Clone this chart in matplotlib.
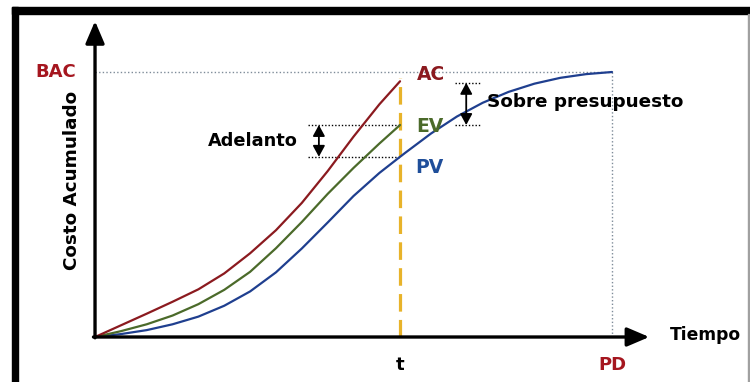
import matplotlib
matplotlib.use("Agg")
import matplotlib.pyplot as plt
from matplotlib.patches import Rectangle

# --- Earned value S-curves (time: % of planned duration, cost: % of BAC) ---
pv_time = [0, 5, 10, 15, 20, 25, 30, 35, 40, 45, 50, 55, 59, 60, 65, 70, 75, 80, 85, 90, 95, 100]
pv_cost = [0, 1.1, 2.6, 4.8, 7.7, 11.8, 17.2, 24.4, 33.4, 43.2, 53.2, 61.9, 68.0, 69.5,
           76.8, 83.2, 88.4, 92.5, 95.6, 97.8, 99.2, 100]

ev_time = [0, 5, 10, 15, 20, 25, 30, 35, 40, 45, 50, 55, 59]
ev_cost = [0, 2.2, 4.8, 8.1, 12.4, 17.8, 24.6, 33.5, 43.4, 54.0, 63.8, 73.0, 80.0]

ac_time = [0, 5, 10, 15, 20, 25, 30, 35, 40, 45, 50, 55, 59]
ac_cost = [0, 4.4, 8.8, 13.3, 18.0, 24.0, 31.6, 40.3, 50.6, 62.6, 75.6, 87.8, 96.5]

status_date = 59        # t
planned_duration = 100  # PD
bac = 100               # BAC

axis_labels = ["Tiempo", "Costo Acumulado"]
curve_labels = ["AC", "EV", "PV"]

# colours
RED = "#8B1A1F"
RED_TXT = "#A5161F"
GREEN = "#4B6A2A"
BLUE = "#1F3F8F"
BLUE_TXT = "#1F4E9A"
GOLD = "#E8B32A"
DOT = "#7F8C99"

FONT = "DejaVu Sans"

fig = plt.figure(figsize=(7.5, 3.82), dpi=100)
ax = fig.add_axes([0, 0, 1, 1])
ax.set_xlim(-18.38, 126.69)
ax.set_ylim(-16.98, 127.17)
ax.axis("off")

# frame decoration
fig.patches.append(Rectangle((11.5 / 750, 0), 6 / 750, 1 - 7 / 382,
                             transform=fig.transFigure, color="black", zorder=0))
fig.patches.append(Rectangle((11.5 / 750, 1 - 14 / 382), 1, 7 / 382,
                             transform=fig.transFigure, color="black", zorder=0))
fig.patches.append(Rectangle((748 / 750, 0), 1.2 / 750, 1 - 14 / 382,
                             transform=fig.transFigure, color="#A0A0A0", zorder=0))

# reference dotted lines (BAC level and planned duration)
dotted = dict(color=DOT, lw=1.0, linestyle=(0, (1, 1.6)))
ax.plot([0, planned_duration], [bac, bac], **dotted)
ax.plot([planned_duration, planned_duration], [0, bac], **dotted)

# status date line
ax.plot([status_date, status_date], [0, ac_cost[-1] + 1.2], color=GOLD, lw=2.3,
        linestyle=(0, (5.5, 2.6)), zorder=2)

# curves
line_kw = dict(lw=1.6, zorder=3, solid_capstyle="round", solid_joinstyle="round")
ax.plot(pv_time, pv_cost, color=BLUE, **line_kw)
ax.plot(ev_time, ev_cost, color=GREEN, **line_kw)
ax.plot(ac_time, ac_cost, color=RED, **line_kw)

# axes with arrow heads
axis_arrow = dict(arrowstyle="-|>,head_length=0.75,head_width=0.32", lw=2.4,
                  color="black", mutation_scale=18, shrinkA=0, shrinkB=0)
ax.annotate("", xy=(107.2, 0), xytext=(-0.3, 0), arrowprops=axis_arrow, zorder=4)
ax.annotate("", xy=(0, 119.2), xytext=(0, -0.3), arrowprops=axis_arrow, zorder=4)

# Adelanto (schedule variance) marker
ev_t = ev_cost[-1]
pv_t = pv_cost[pv_time.index(status_date)]
ac_t = ac_cost[-1]
black_dots = dict(color="black", lw=1.0, linestyle=(0, (1, 1.4)))
ax.plot([41.2, status_date], [ev_t, ev_t], **black_dots)
ax.plot([41.2, status_date], [pv_t, pv_t], **black_dots)
small_arrow = dict(arrowstyle="<|-|>,head_length=0.55,head_width=0.3", lw=1.3,
                   color="black", mutation_scale=12, shrinkA=0, shrinkB=0)
ax.annotate("", xy=(43.3, ev_t), xytext=(43.3, pv_t), arrowprops=small_arrow)

# Sobre presupuesto (cost variance) marker
ax.plot([69.6, 74.5], [ac_t - 0.6, ac_t - 0.6], **black_dots)
ax.plot([69.6, 74.5], [ev_t, ev_t], **black_dots)
ax.annotate("", xy=(71.8, ac_t - 0.6), xytext=(71.8, ev_t), arrowprops=small_arrow)

# text
bold = dict(fontweight="bold", family=FONT)
ax.text(-7.6, bac, "BAC", color=RED_TXT, fontsize=13, ha="center", va="center", **bold)
ax.text(62.2, 99.2, curve_labels[0], color=RED, fontsize=13.5, ha="left", va="center", **bold)
ax.text(62.2, 79.6, curve_labels[1], color=GREEN, fontsize=13.5, ha="left", va="center", **bold)
ax.text(62.0, 63.8, curve_labels[2], color=BLUE_TXT, fontsize=13.5, ha="left", va="center", **bold)
ax.text(30.6, 74.0, "Adelanto", color="black", fontsize=12.8, ha="center", va="center", **bold)
ax.text(75.8, 88.7, "Sobre presupuesto", color="black", fontsize=13.2, ha="left",
        va="center", **bold)
ax.text(-4.5, 58.9, axis_labels[1], color="black", fontsize=13.2, rotation=90,
        ha="center", va="center", **bold)
ax.text(111.2, 0.6, axis_labels[0], color="black", fontsize=12.3, ha="left", va="center", **bold)
ax.text(status_date, -10.6, "t", color="black", fontsize=13, ha="center", va="center", **bold)
ax.text(planned_duration, -10.6, "PD", color=RED_TXT, fontsize=13, ha="center",
        va="center", **bold)

fig.savefig("out.png", dpi=100)
